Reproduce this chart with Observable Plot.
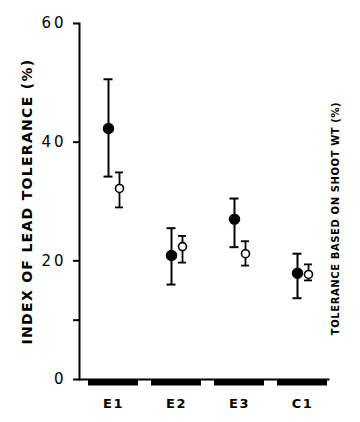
<!DOCTYPE html>
<html><head><meta charset="utf-8">
<script src="https://cdn.jsdelivr.net/npm/d3@7"></script>
<script src="https://cdn.jsdelivr.net/npm/@observablehq/plot@0.6"></script>
<style>
body{margin:0;background:#fff;}
svg{font-family:"DejaVu Sans",sans-serif;}
.ytick text{letter-spacing:3px;}
.xtick text{letter-spacing:1.5px;}
.ltitle text{letter-spacing:1.3px;}
.rtitle text{letter-spacing:0.6px;}
</style>
</head><body>
<div id="chart"></div>
<script>
const categories = ["E1", "E2", "E3", "C1"];
// filled: index of lead tolerance; open: tolerance based on shoot wt
const filledMean = [42.3, 20.9, 27.0, 17.9];
const filledHigh = [50.6, 25.5, 30.5, 21.2];
const filledLow  = [34.2, 16.0, 22.3, 13.7];
const openMean = [32.2, 22.4, 21.2, 17.7];
const openHigh = [34.9, 24.2, 23.3, 19.4];
const openLow  = [29.0, 19.7, 19.2, 16.7];
const yTicks = [0, 10, 20, 40, 60];
const yTickLabels = ["0", "", "20", "40", "60"];
const leftTitle = "INDEX OF LEAD TOLERANCE (%)";
const rightTitle = "TOLERANCE BASED ON SHOOT WT (%)";

const filled = categories.map((c, i) => ({c, m: filledMean[i], lo: filledLow[i], hi: filledHigh[i]}));
const open = categories.map((c, i) => ({c, m: openMean[i], lo: openLow[i], hi: openHigh[i]}));
const base = categories.map(c => ({c, v: 0}));

const chart = Plot.plot({
  width: 360,
  height: 422,
  marginLeft: 79,
  marginRight: 32,
  marginTop: 23,
  marginBottom: 43,
  style: {fontFamily: "DejaVu Sans, sans-serif", background: "#fff", color: "#000"},
  x: {domain: categories, range: [88, 328], paddingInner: 0.2, paddingOuter: 0},
  y: {domain: [0, 60]},
  marks: [
    Plot.axisY({
      ticks: yTicks,
      tickFormat: d => yTickLabels[yTicks.indexOf(d)],
      tickSize: 6,
      tickPadding: 7,
      strokeWidth: 2,
      fontSize: 15,
      fill: "#000",
      label: null,
      className: "ytick"
    }),
    Plot.axisX({
      tickSize: 0,
      tickPadding: 19,
      fontSize: 13,
      fontWeight: "bold",
      fill: "#000",
      label: null,
      className: "xtick"
    }),
    Plot.frame({anchor: "left", strokeWidth: 2}),
    Plot.frame({anchor: "bottom", strokeWidth: 2}),
    Plot.tickY(base, {x: "c", y: "v", strokeWidth: 6, dy: 3, stroke: "#000"}),
    // filled series
    Plot.ruleX(filled, {x: "c", y1: "lo", y2: "hi", dx: -5, strokeWidth: 2}),
    Plot.tickY(filled, {x: "c", y: "hi", dx: -5, insetLeft: 20.5, insetRight: 20.5, strokeWidth: 2}),
    Plot.tickY(filled, {x: "c", y: "lo", dx: -5, insetLeft: 20.5, insetRight: 20.5, strokeWidth: 2}),
    Plot.dot(filled, {x: "c", y: "m", dx: -5, r: 5, fill: "#000", stroke: "#000"}),
    // open series
    Plot.ruleX(open, {x: "c", y1: "lo", y2: "hi", dx: 6, strokeWidth: 1.8}),
    Plot.tickY(open, {x: "c", y: "hi", dx: 6, insetLeft: 21, insetRight: 21, strokeWidth: 1.8}),
    Plot.tickY(open, {x: "c", y: "lo", dx: 6, insetLeft: 21, insetRight: 21, strokeWidth: 1.8}),
    Plot.dot(open, {x: "c", y: "m", dx: 6, r: 4, fill: "#fff", stroke: "#000", strokeWidth: 1.6}),
    Plot.text([leftTitle], {
      frameAnchor: "left", rotate: -90, dx: -52,
      fontSize: 14, fontWeight: "bold", fill: "#000", textAnchor: "middle",
      className: "ltitle"
    }),
    Plot.text([rightTitle], {
      frameAnchor: "right", rotate: -90, dx: 10, dy: 17,
      fontSize: 10, fontWeight: "bold", fill: "#000", textAnchor: "middle", lineAnchor: "bottom",
      className: "rtitle"
    })
  ]
});
document.getElementById("chart").append(chart);
</script>
</body></html>
